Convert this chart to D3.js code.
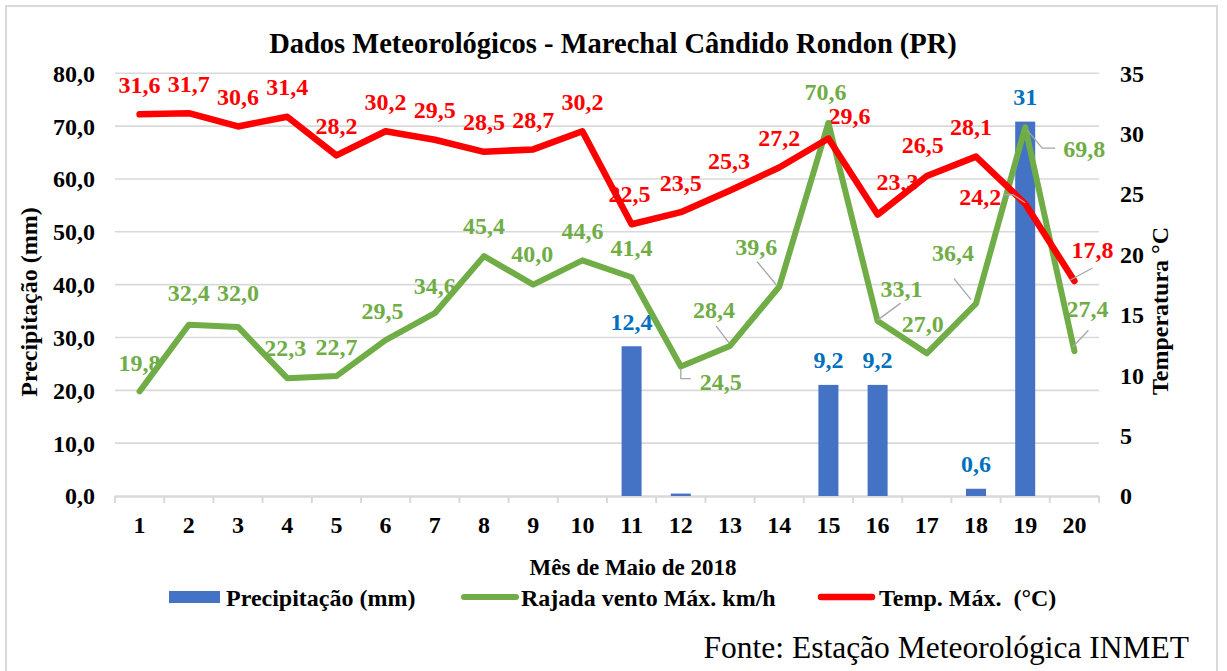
<!DOCTYPE html>
<html>
<head>
<meta charset="utf-8">
<script src="https://cdn.jsdelivr.net/npm/d3@7"></script>
<style>
  html, body { margin: 0; padding: 0; background: #fff; }
  svg { display: block; }
</style>
</head>
<body>
<script>
// ---------- data ----------
const days = [1,2,3,4,5,6,7,8,9,10,11,12,13,14,15,16,17,18,19,20];
const precip = [0,0,0,0,0,0,0,0,0,0,12.4,0.2,0,0,9.2,9.2,0,0.6,31,0];
const precipLabels = ["","","","","","","","","","","12,4","","","","9,2","9,2","","0,6","31",""];
const gust = [19.8,32.4,32.0,22.3,22.7,29.5,34.6,45.4,40.0,44.6,41.4,24.5,28.4,39.6,70.6,33.1,27.0,36.4,69.8,27.4];
const temp = [31.6,31.7,30.6,31.4,28.2,30.2,29.5,28.5,28.7,30.2,22.5,23.5,25.3,27.2,29.6,23.3,26.5,28.1,24.2,17.8];
const leftTicks = [0,10,20,30,40,50,60,70,80];
const rightTicks = [0,5,10,15,20,25,30,35];

const title = "Dados Meteorológicos - Marechal Cândido Rondon (PR)";
const xTitle = "Mês de Maio de 2018";
const yLeftTitle = "Precipitação (mm)";
const yRightTitle = "Temperatura °C";
const seriesNames = ["Precipitação (mm)", "Rajada vento Máx. km/h", "Temp. Máx.  (°C)"];
const source = "Fonte: Estação Meteorológica INMET";

// ---------- label layout (offsets from point, px) ----------
const gustDx = [0,0,0,-2,0,-3,0,0,-1,0,0,40,-16,-23,-3,24,-4,-23,59,13];
const gustDy = [-29,-32,-34,-31,-29,-30,-28,-31,-31,-30,-30,15,-36,-40,-31,-33,-30,-51,21,-43];
const gustLeader = {
  11: [[0,2],[0,12],[10,12]],
  12: [[-1,-3],[-14,-20]],
  13: [[-3,-2],[-22,-25]],
  15: [[0,-1],[23,-18]],
  17: [[-5,-4],[-22,-25]],
  18: [[2,3],[17,21],[30,21]],
  19: [[-2,-4],[14,-21]]
};
const tempDx = [0,0,0,0,0,0,0,0,0,0,-2,0,-1,0,21,20,-4,-5,-45,18];
const tempDy = [-30,-30,-30,-30,-30,-30,-30,-30,-30,-30,-31,-30,-30,-30,-23,-33,-31,-30,-7,-31];
const tempLeader = {
  18: [[0,-1],[-12,-9],[-22,-9]],
  19: [[-4,-1],[18,-13]]
};

// ---------- font pick ----------
function pickFont() {
  const c = document.createElement("canvas").getContext("2d");
  const s = "Dados Meteorológicos 0123456789 WMmil";
  c.font = "bold 40px monospace"; const mono = c.measureText(s).width;
  c.font = "bold 40px sans-serif"; const sans = c.measureText(s).width;
  const cands = ["Liberation Serif", "Tinos", "Times New Roman", "Nimbus Roman", "DejaVu Serif", "Noto Serif"];
  for (const f of cands) {
    c.font = `bold 40px "${f}", monospace`; const w1 = c.measureText(s).width;
    c.font = `bold 40px "${f}", sans-serif`; const w2 = c.measureText(s).width;
    if (Math.abs(w1 - mono) > 0.5 && Math.abs(w2 - sans) > 0.5) return `"${f}", serif`;
  }
  return "serif";
}
const FONT = pickFont();

// ---------- setup ----------
const W = 1227, H = 671;
const svg = d3.select("body").append("svg").attr("width", W).attr("height", H)
  .attr("font-family", FONT).style("font-family", FONT);

const colBar = "#4472C4", colGust = "#70AD47", colTemp = "#FF0000", colBarLbl = "#0070C0";
const grid = "#d9d9d9";
const LBL = 24;

svg.append("path")
  .attr("d", `M6,${H+2} L6,6 L1217,6 L1217,${H+2}`)
  .attr("fill", "none").attr("stroke", grid).attr("stroke-width", 2);

const x = d3.scaleBand().domain(days).range([115, 1099]).padding(0);
const yL = d3.scaleLinear().domain([0, 80]).range([496, 73.3]);
const yR = d3.scaleLinear().domain([0, 35]).range([496, 73.3]);
const cx = d => x(d) + x.bandwidth() / 2;

function T(sel) { return sel.attr("font-family", FONT).style("font-family", FONT); }

// title
T(svg.append("text")).attr("x", 613).attr("y", 53).attr("text-anchor", "middle")
  .attr("font-size", 28.5).attr("font-weight", "bold").attr("fill", "#000").text(title);

// gridlines
svg.append("g").selectAll("line").data(leftTicks.filter(t => t > 0)).join("line")
  .attr("x1", 115).attr("x2", 1099)
  .attr("y1", d => yL(d)).attr("y2", d => yL(d))
  .attr("stroke", grid).attr("stroke-width", 1.6);

// left axis labels
T(svg.append("g").selectAll("text").data(leftTicks).join("text"))
  .attr("x", 95).attr("y", d => yL(d)).attr("dy", "0.35em")
  .attr("text-anchor", "end").attr("font-size", LBL).attr("font-weight", "bold")
  .text(d => d3.format(".1f")(d).replace(".", ","));

// right axis labels
T(svg.append("g").selectAll("text").data(rightTicks).join("text"))
  .attr("x", 1120).attr("y", d => yR(d)).attr("dy", "0.35em")
  .attr("text-anchor", "start").attr("font-size", LBL).attr("font-weight", "bold")
  .text(d => d);

// x axis
const xAxis = d3.axisBottom(x).tickSize(0).tickPadding(0);
const gx = svg.append("g").attr("transform", "translate(0,496)").call(xAxis);
gx.attr("font-family", FONT);
gx.select(".domain").remove();
T(gx.selectAll("text")).attr("font-size", LBL).attr("font-weight", "bold")
  .attr("fill", "#000").attr("y", 29).attr("dy", "0.35em");
gx.selectAll("line").remove();
svg.append("line").attr("x1", 115).attr("x2", 1099).attr("y1", 496.5).attr("y2", 496.5)
  .attr("stroke", grid).attr("stroke-width", 2.5);
const bounds = days.map(d => x(d)).concat([x(days[days.length - 1]) + x.bandwidth()]);
svg.append("g").selectAll("line").data(bounds).join("line")
  .attr("x1", d => d).attr("x2", d => d).attr("y1", 496).attr("y2", 503)
  .attr("stroke", grid).attr("stroke-width", 2);

// axis titles
T(svg.append("text")).attr("transform", "translate(37,302) rotate(-90)")
  .attr("text-anchor", "middle").attr("font-size", 24).attr("font-weight", "bold").text(yLeftTitle);
T(svg.append("text")).attr("transform", "translate(1168,311) rotate(-90)")
  .attr("text-anchor", "middle").attr("font-size", 24).attr("font-weight", "bold").text(yRightTitle);
T(svg.append("text")).attr("x", 633).attr("y", 575).attr("text-anchor", "middle")
  .attr("font-size", 23).attr("font-weight", "bold").text(xTitle);

// bars (right axis)
const barW = 20;
svg.append("g").selectAll("rect").data(days.map((d, i) => ({d, v: precip[i]})).filter(o => o.v > 0)).join("rect")
  .attr("x", o => cx(o.d) - barW / 2).attr("width", barW)
  .attr("y", o => yR(o.v)).attr("height", o => yR(0) - yR(o.v))
  .attr("fill", colBar);

T(svg.append("g").selectAll("text").data(days.map((d, i) => ({d, v: precip[i], t: precipLabels[i]})).filter(o => o.t)).join("text"))
  .attr("x", o => cx(o.d)).attr("y", o => yR(o.v) - 25).attr("dy", "0.35em")
  .attr("text-anchor", "middle").attr("font-size", LBL).attr("font-weight", "bold")
  .attr("fill", colBarLbl).text(o => o.t);

const fmt = v => d3.format(".1f")(v).replace(".", ",");

T(svg.append("g").selectAll("text").data(gust).join("text"))
  .attr("x", (v, i) => cx(days[i]) + gustDx[i]).attr("y", (v, i) => yL(v) + gustDy[i]).attr("dy", "0.35em")
  .attr("text-anchor", "middle").attr("font-size", LBL).attr("font-weight", "bold")
  .attr("fill", colGust).text(v => fmt(v));

T(svg.append("g").selectAll("text").data(temp).join("text"))
  .attr("x", (v, i) => cx(days[i]) + tempDx[i]).attr("y", (v, i) => yR(v) + tempDy[i]).attr("dy", "0.35em")
  .attr("text-anchor", "middle").attr("font-size", LBL).attr("font-weight", "bold")
  .attr("fill", colTemp).text(v => fmt(v));

svg.append("path")
  .attr("d", d3.line().x((v, i) => cx(days[i])).y(v => yL(v))(gust))
  .attr("fill", "none").attr("stroke", colGust).attr("stroke-width", 6)
  .attr("stroke-linejoin", "round").attr("stroke-linecap", "round");

svg.append("path")
  .attr("d", d3.line().x((v, i) => cx(days[i])).y(v => yR(v))(temp))
  .attr("fill", "none").attr("stroke", colTemp).attr("stroke-width", 6.5)
  .attr("stroke-linejoin", "round").attr("stroke-linecap", "round");

function leaders(obj, vals, yS) {
  Object.keys(obj).forEach(k => {
    const i = +k;
    const px = cx(days[i]), py = yS(vals[i]);
    svg.append("path")
      .attr("d", d3.line()(obj[k].map(p => [px + p[0], py + p[1]])))
      .attr("fill", "none").attr("stroke", "#a6a6a6").attr("stroke-width", 1.3);
  });
}
leaders(gustLeader, gust, yL);
leaders(tempLeader, temp, yR);

// legend
const lg = svg.append("g");
lg.append("rect").attr("x", 169).attr("y", 591).attr("width", 51).attr("height", 12).attr("fill", colBar);
T(lg.append("text")).attr("x", 226).attr("y", 598).attr("dy", "0.35em").attr("font-size", 24)
  .attr("font-weight", "bold").text(seriesNames[0]);
lg.append("line").attr("x1", 464).attr("x2", 516).attr("y1", 597).attr("y2", 597)
  .attr("stroke", colGust).attr("stroke-width", 6).attr("stroke-linecap", "round");
T(lg.append("text")).attr("x", 521).attr("y", 598).attr("dy", "0.35em").attr("font-size", 24)
  .attr("font-weight", "bold").text(seriesNames[1]);
lg.append("line").attr("x1", 821).attr("x2", 872).attr("y1", 597).attr("y2", 597)
  .attr("stroke", colTemp).attr("stroke-width", 6.5).attr("stroke-linecap", "round");
T(lg.append("text")).attr("x", 879).attr("y", 598).attr("dy", "0.35em").attr("font-size", 24)
  .attr("font-weight", "bold").style("white-space", "pre").text(seriesNames[2]);

T(svg.append("text")).attr("x", 1189).attr("y", 658).attr("text-anchor", "end")
  .attr("font-size", 31.5).attr("fill", "#000").text(source);
</script>
</body>
</html>
